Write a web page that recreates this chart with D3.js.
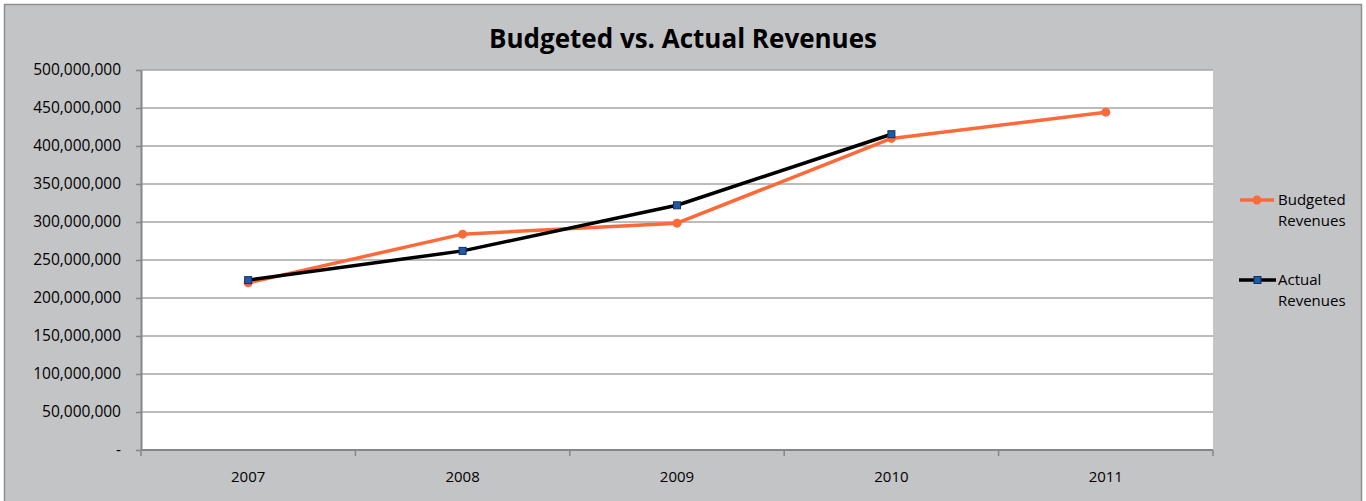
<!DOCTYPE html>
<html><head><meta charset="utf-8">
<script src="https://cdn.jsdelivr.net/npm/d3@7"></script>
<style>body{margin:0;background:#fff;}svg{display:block;}</style>
</head><body>
<script>
const categories = ["2007","2008","2009","2010","2011"];
const budgeted = [220000000, 284000000, 298500000, 410000000, 444500000];
const actual = [223500000, 262000000, 322000000, 415500000, null];
const yTicks = [0,50000000,100000000,150000000,200000000,250000000,300000000,350000000,400000000,450000000,500000000];
const seriesNames = [["Budgeted","Revenues"],["Actual","Revenues"]];

const W=1366,H=501;
const svg=d3.select("body").append("svg").attr("width",W).attr("height",H);
const font="'Open Sans', 'Noto Sans', sans-serif";
svg.append("rect").attr("x",0).attr("y",0).attr("width",W).attr("height",H).attr("fill","#fff");
svg.append("rect").attr("x",4.5).attr("y",4.5).attr("width",1357).attr("height",510).attr("fill","#C3C4C6").attr("stroke","#8E8E8E").attr("stroke-width",1.5);

const L=141,R=1213,T=70,B=450;
svg.append("rect").attr("x",L).attr("y",T).attr("width",R-L).attr("height",B-T).attr("fill","#fff");

const x=d3.scaleBand().domain(categories).range([L,R]);
const y=d3.scaleLinear().domain([0,500000000]).range([B,T]);

svg.append("g").selectAll("line").data(yTicks.filter(d=>d>0)).join("line")
 .attr("x1",L).attr("x2",R).attr("y1",d=>y(d)).attr("y2",d=>y(d))
 .attr("stroke","#A6A6A6").attr("stroke-width",1.5);

const fmt=d=>d===0?"-":d3.format(",")(d);
const yAxis=svg.append("g").attr("transform",`translate(${L},0)`)
 .call(d3.axisLeft(y).tickValues(yTicks).tickFormat(fmt).tickSizeOuter(0).tickSizeInner(5).tickPadding(15));
yAxis.select(".domain").attr("stroke","#868686").attr("stroke-width",2);
yAxis.selectAll(".tick line").attr("stroke","#868686").attr("stroke-width",1.5);
yAxis.selectAll("text").attr("font-family",font).attr("font-size",15.5).attr("fill","#000");

const xAxis=svg.append("g").attr("transform",`translate(0,${B})`)
 .call(d3.axisBottom(x).tickSize(0).tickPadding(21));
xAxis.select(".domain").remove();
xAxis.selectAll("text").attr("font-family",font).attr("font-size",15).attr("fill","#000");
const bounds=categories.map(c=>x(c)).concat([R]);
svg.append("g").selectAll("line").data(bounds).join("line")
 .attr("x1",d=>d).attr("x2",d=>d).attr("y1",B).attr("y2",B+6)
 .attr("stroke","#868686").attr("stroke-width",1.5);
svg.append("line").attr("x1",L).attr("x2",R).attr("y1",B).attr("y2",B).attr("stroke","#868686").attr("stroke-width",2);

const cx=c=>x(c)+x.bandwidth()/2;
const orange="#FC6A3A";
const line=d3.line().defined(d=>d[1]!=null).x(d=>cx(d[0])).y(d=>y(d[1]));
svg.append("path").datum(categories.map((c,i)=>[c,budgeted[i]])).attr("d",line)
 .attr("fill","none").attr("stroke",orange).attr("stroke-width",3.5).attr("stroke-linejoin","round");
svg.append("path").datum(categories.map((c,i)=>[c,actual[i]])).attr("d",line)
 .attr("fill","none").attr("stroke","#000").attr("stroke-width",3.5).attr("stroke-linejoin","round");
svg.append("g").selectAll("circle").data(categories.map((c,i)=>[c,budgeted[i]])).join("circle")
 .attr("cx",d=>cx(d[0])).attr("cy",d=>y(d[1])).attr("r",4.5).attr("fill",orange);
svg.append("g").selectAll("rect").data(categories.map((c,i)=>[c,actual[i]]).filter(d=>d[1]!=null)).join("rect")
 .attr("x",d=>cx(d[0])-3.5).attr("y",d=>y(d[1])-3.5).attr("width",7).attr("height",7)
 .attr("fill","#1F5AA6").attr("stroke","#0F2F66").attr("stroke-width",1);

svg.append("text").attr("x",683).attr("y",48).attr("text-anchor","middle")
 .attr("font-family",font).attr("font-weight","bold").attr("font-size",26).attr("fill","#000")
 .text("Budgeted vs. Actual Revenues");

const lg=svg.append("g");
const ly=[200,280];
lg.append("line").attr("x1",1240).attr("x2",1274).attr("y1",ly[0]).attr("y2",ly[0]).attr("stroke",orange).attr("stroke-width",3.5);
lg.append("circle").attr("cx",1257).attr("cy",ly[0]).attr("r",4.5).attr("fill",orange);
lg.append("line").attr("x1",1239).attr("x2",1276).attr("y1",ly[1]).attr("y2",ly[1]).attr("stroke","#000").attr("stroke-width",3.5);
lg.append("rect").attr("x",1254).attr("y",ly[1]-3.5).attr("width",7).attr("height",7).attr("fill","#1F5AA6").attr("stroke","#0F2F66");
seriesNames.forEach((n,i)=>{
 const t=lg.append("text").attr("font-family",font).attr("font-size",15).attr("fill","#000");
 t.append("tspan").attr("x",1278).attr("y",ly[i]+5).text(n[0]);
 t.append("tspan").attr("x",1278).attr("y",ly[i]+26).text(n[1]);
});
</script>
</body></html>
